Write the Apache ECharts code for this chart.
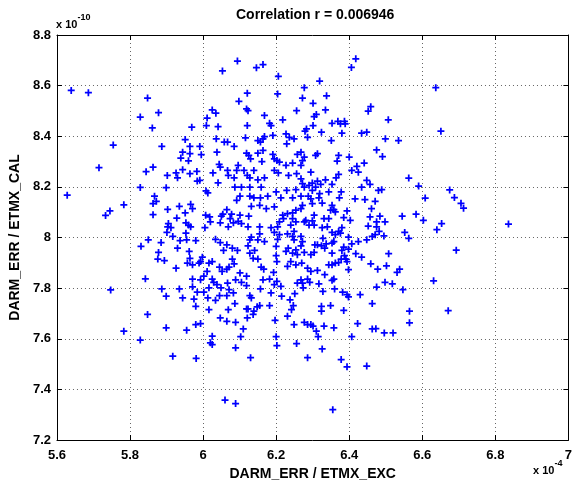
<!DOCTYPE html>
<html>
<head>
<meta charset="utf-8">
<script src="https://cdn.jsdelivr.net/npm/echarts@6/dist/echarts.min.js"></script>
<style>html,body{margin:0;padding:0;background:#fff}#c{width:575px;height:487px}</style>
</head>
<body>
<div id="c"></div>
<script>
// x in units of 1e-4, y in units of 1e-10
const titleText = 'Correlation r = 0.006946';
const xName = 'DARM_ERR / ETMX_EXC';
const yName = 'DARM_ERR / ETMX_CAL';
const xTicks = [5.6, 5.8, 6, 6.2, 6.4, 6.6, 6.8, 7];
const yTicks = [7.2, 7.4, 7.6, 7.8, 8, 8.2, 8.4, 8.6, 8.8];

const ptsUpperLeft = [[5.878,8.493],[5.861,8.433],[5.969,8.436],[6.025,8.504],[6.035,8.491],[6.011,8.472],[6.009,8.442],[6.041,8.438],[5.951,8.387],[5.887,8.360],[5.964,8.360],[5.991,8.360],[5.944,8.337],[5.964,8.331],[5.939,8.314],[5.960,8.303],[5.995,8.327],[6.036,8.390],[6.058,8.377],[6.038,8.337],[6.044,8.289],[6.047,8.278],[5.863,8.278],[5.944,8.268],[5.926,8.255],[5.930,8.236],[5.902,8.245],[5.964,8.252],[5.983,8.261],[5.984,8.223],[5.991,8.226],[6.027,8.255],[6.041,8.216],[5.899,8.197],[6.008,8.184],[6.013,8.176],[5.867,8.163],[5.872,8.143],[5.863,8.134],[5.903,8.111],[5.935,8.123],[5.966,8.131],[5.971,8.114],[5.951,8.097],[5.928,8.077],[5.863,8.090],[6.007,8.088],[6.018,8.081],[6.020,8.062],[6.050,8.084],[6.054,8.092],[6.047,8.058],[5.905,8.055],[5.903,8.042],[5.912,8.039],[5.953,8.058],[5.960,8.049],[5.966,8.042],[6.005,8.039]];

const ptsUpperMid = [[6.121,8.570],[6.204,8.567],[6.098,8.538],[6.119,8.508],[6.123,8.501],[6.256,8.501],[6.168,8.482],[6.182,8.451],[6.186,8.442],[6.218,8.465],[6.121,8.442],[6.116,8.394],[6.067,8.377],[6.085,8.360],[6.150,8.383],[6.157,8.377],[6.168,8.399],[6.164,8.390],[6.191,8.403],[6.227,8.409],[6.236,8.396],[6.249,8.390],[6.229,8.370],[6.119,8.333],[6.125,8.324],[6.130,8.311],[6.150,8.333],[6.164,8.344],[6.191,8.328],[6.195,8.311],[6.202,8.304],[6.209,8.298],[6.161,8.300],[6.227,8.285],[6.245,8.294],[6.258,8.328],[6.096,8.285],[6.092,8.265],[6.112,8.265],[6.139,8.265],[6.067,8.265],[6.069,8.245],[6.085,8.236],[6.121,8.245],[6.128,8.236],[6.150,8.228],[6.168,8.236],[6.195,8.265],[6.206,8.255],[6.234,8.245],[6.256,8.252],[6.087,8.199],[6.105,8.199],[6.128,8.199],[6.159,8.199],[6.200,8.180],[6.229,8.186],[6.254,8.189],[6.101,8.163],[6.092,8.147],[6.128,8.163],[6.139,8.157],[6.157,8.157],[6.177,8.163],[6.213,8.157],[6.245,8.157],[6.132,8.123],[6.155,8.127],[6.173,8.114],[6.195,8.121],[6.065,8.110],[6.078,8.092],[6.074,8.075],[6.101,8.088],[6.125,8.084],[6.096,8.064],[6.105,8.055],[6.083,8.058],[6.069,8.042],[6.123,8.042],[6.155,8.042],[6.186,8.039],[6.218,8.088],[6.231,8.094],[6.245,8.097],[6.220,8.075],[6.245,8.075],[6.254,8.062],[6.240,8.049],[6.209,8.062],[6.204,8.042],[6.254,8.108]];

const ptsUpperRight = [[6.272,8.551],[6.301,8.530],[6.338,8.560],[6.335,8.504],[6.310,8.486],[6.304,8.478],[6.301,8.442],[6.283,8.429],[6.279,8.420],[6.286,8.396],[6.324,8.416],[6.353,8.451],[6.369,8.459],[6.376,8.449],[6.387,8.459],[6.389,8.449],[6.380,8.412],[6.351,8.383],[6.434,8.412],[6.448,8.416],[6.452,8.499],[6.459,8.517],[6.268,8.337],[6.277,8.318],[6.272,8.304],[6.268,8.285],[6.313,8.331],[6.308,8.324],[6.371,8.324],[6.367,8.302],[6.400,8.318],[6.441,8.294],[6.421,8.281],[6.407,8.265],[6.425,8.258],[6.295,8.258],[6.268,8.232],[6.272,8.213],[6.290,8.206],[6.299,8.215],[6.313,8.223],[6.335,8.228],[6.371,8.249],[6.364,8.236],[6.277,8.199],[6.299,8.186],[6.308,8.199],[6.322,8.210],[6.353,8.210],[6.448,8.226],[6.457,8.210],[6.434,8.199],[6.288,8.163],[6.295,8.153],[6.319,8.173],[6.317,8.157],[6.344,8.180],[6.378,8.180],[6.373,8.157],[6.268,8.163],[6.299,8.134],[6.326,8.136],[6.272,8.127],[6.268,8.114],[6.353,8.127],[6.358,8.110],[6.349,8.108],[6.362,8.101],[6.394,8.105],[6.416,8.153],[6.443,8.150],[6.461,8.114],[6.281,8.068],[6.277,8.062],[6.304,8.088],[6.299,8.066],[6.290,8.049],[6.304,8.049],[6.331,8.075],[6.344,8.075],[6.340,8.042],[6.326,8.039],[6.385,8.079],[6.403,8.068],[6.380,8.039],[6.457,8.081],[6.452,8.045],
[6.507,8.465],[6.651,8.420],[6.499,8.390],[6.535,8.383],[6.475,8.346],[6.491,8.320],[6.563,8.235],[6.590,8.203],[6.480,8.186],[6.489,8.189],[6.471,8.143],[6.608,8.156],[6.484,8.084],[6.498,8.062],[6.475,8.062],[6.545,8.084],[6.583,8.092],[6.603,8.068],[6.653,8.055],[6.475,8.042]];

const ptsLowerLeft = [[5.901,8.020],[5.917,8.004],[5.953,8.017],[5.885,7.980],[5.937,7.988],[5.955,7.991],[5.980,7.988],[6.034,7.993],[6.047,7.980],[6.056,7.949],[5.930,7.958],[5.878,7.941],[5.962,7.945],[5.876,7.915],[5.894,7.909],[5.964,7.918],[5.957,7.899],[5.971,7.892],[5.989,7.899],[5.998,7.922],[5.993,7.905],[6.016,7.899],[6.025,7.905],[5.926,7.879],[6.045,7.883],[6.052,7.866],[6.011,7.866],[6.002,7.847],[5.993,7.833],[5.971,7.836],[6.025,7.836],[6.029,7.823],[6.038,7.814],[6.049,7.801],[5.887,7.797],[5.935,7.797],[5.971,7.805],[5.984,7.784],[6.002,7.784],[6.016,7.801],[5.899,7.768],[5.944,7.761],[5.975,7.757],[6.013,7.761],[6.034,7.752],[6.045,7.770],[5.980,7.728],[6.016,7.715],[6.047,7.682],[5.899,7.643],[5.955,7.634],[5.980,7.656],[5.993,7.660],[6.025,7.610],[6.020,7.584],[6.025,7.577],[5.917,7.531],[5.981,7.522]];

const ptsLowerMid = [[6.155,8.014],[6.195,8.020],[6.209,8.011],[6.231,8.014],[6.245,8.004],[6.249,8.024],[6.128,7.991],[6.132,8.001],[6.150,7.991],[6.168,7.984],[6.204,7.993],[6.249,7.991],[6.065,7.971],[6.080,7.958],[6.094,7.949],[6.123,7.967],[6.128,7.938],[6.141,7.949],[6.150,7.915],[6.137,7.918],[6.159,7.883],[6.166,7.875],[6.200,7.965],[6.200,7.928],[6.202,7.905],[6.227,7.945],[6.233,7.958],[6.245,7.938],[6.254,7.951],[6.258,7.932],[6.240,7.905],[6.254,7.892],[6.231,7.886],[6.080,7.915],[6.085,7.896],[6.071,7.883],[6.065,7.875],[6.101,7.860],[6.119,7.847],[6.089,7.833],[6.105,7.823],[6.119,7.810],[6.067,7.820],[6.071,7.794],[6.083,7.781],[6.065,7.770],[6.087,7.739],[6.128,7.770],[6.132,7.761],[6.157,7.797],[6.164,7.833],[6.182,7.836],[6.193,7.862],[6.202,7.827],[6.195,7.814],[6.186,7.781],[6.213,7.807],[6.215,7.768],[6.238,7.754],[6.251,7.778],[6.258,7.820],[6.155,7.731],[6.148,7.726],[6.182,7.731],[6.119,7.718],[6.123,7.718],[6.139,7.709],[6.137,7.696],[6.121,7.682],[6.069,7.715],[6.065,7.669],[6.089,7.665],[6.110,7.639],[6.103,7.608],[6.089,7.564],[6.130,7.525],[6.197,7.673],[6.200,7.608],[6.202,7.573],[6.231,7.689],[6.242,7.715],[6.247,7.731],[6.249,7.656],[6.256,7.581]];

const ptsLowerRight = [[6.268,8.004],[6.272,7.984],[6.268,7.967],[6.328,7.997],[6.353,8.020],[6.362,8.011],[6.371,8.024],[6.376,8.017],[6.398,8.001],[6.407,7.975],[6.425,7.984],[6.448,7.991],[6.463,8.004],[6.306,7.971],[6.313,7.971],[6.324,7.967],[6.337,7.975],[6.353,7.978],[6.358,7.984],[6.333,7.958],[6.277,7.941],[6.295,7.932],[6.304,7.941],[6.353,7.938],[6.380,7.949],[6.385,7.962],[6.398,7.954],[6.387,7.928],[6.391,7.915],[6.394,7.905],[6.378,7.915],[6.362,7.899],[6.353,7.892],[6.344,7.892],[6.371,7.901],[6.418,7.936],[6.434,7.922],[6.459,7.896],[6.270,7.899],[6.286,7.879],[6.295,7.866],[6.313,7.870],[6.333,7.853],[6.353,7.831],[6.358,7.836],[6.398,7.873],[6.268,7.833],[6.272,7.820],[6.286,7.836],[6.292,7.823],[6.274,7.801],[6.317,7.817],[6.328,7.787],[6.360,7.797],[6.382,7.784],[6.394,7.774],[6.398,7.765],[6.430,7.774],[6.463,7.739],[6.324,7.728],[6.324,7.709],[6.349,7.731],[6.385,7.712],[6.277,7.665],[6.286,7.656],[6.295,7.656],[6.301,7.650],[6.310,7.630],[6.315,7.608],[6.331,7.650],[6.358,7.643],[6.423,7.660],[6.407,7.608],[6.463,7.639],[6.326,7.560],[6.286,7.525],[6.378,7.518],[6.394,7.489],[6.448,7.492],
[6.471,8.011],[6.482,8.024],[6.495,8.006],[6.552,8.020],[6.563,7.997],[6.640,8.031],[6.508,7.936],[6.478,7.875],[6.502,7.888],[6.531,7.862],[6.538,7.875],[6.498,7.823],[6.518,7.817],[6.475,7.804],[6.547,7.794],[6.631,7.829],[6.565,7.709],[6.565,7.663],[6.473,7.640],[6.496,7.623],[6.520,7.623]];

const ptsOuter = [[5.639,8.581],[5.686,8.572],[5.828,8.476],[5.848,8.551],[5.754,8.365],[5.715,8.276],[5.844,8.260],[5.828,8.198],[5.628,8.167],[5.733,8.087],[5.745,8.105],[5.783,8.129],[5.850,7.991],[5.830,7.965],[5.842,7.837],[5.747,7.793],[5.848,7.696],[5.783,7.630],[5.828,7.595],
[6.675,8.188],[6.688,8.158],[6.706,8.135],[6.713,8.116],[6.836,8.053],[6.693,7.950],[6.671,7.711],
[6.053,8.658],[6.094,8.697],[6.146,8.671],[6.164,8.683],[6.206,8.637],[6.277,8.592],[6.319,8.618],[6.406,8.672],[6.418,8.706],[6.637,8.592],
[6.060,7.358],[6.089,7.344],[6.355,7.320]];

const allPts = [].concat(ptsUpperLeft, ptsUpperMid, ptsUpperRight, ptsLowerLeft, ptsLowerMid, ptsLowerRight, ptsOuter);

const FONT = 'Liberation Sans, Arial, Helvetica, sans-serif';
const fmt = v => String(+(+v).toFixed(1));
const chart = echarts.init(document.getElementById('c'), null, {renderer: 'canvas'});
const grid = {left: 55, top: 35, width: 518, height: 405};
const axisCommon = {
  type: 'value',
  axisLine: {show: true, lineStyle: {color: '#000', width: 1}},
  axisTick: {show: true, inside: true, length: 5, lineStyle: {color: '#000', width: 1}},
  splitLine: {show: false},
  axisLabel: {show: false}
};
chart.setOption({
  animation: false,
  backgroundColor: '#fff',
  grid: grid,
  xAxis: [
    Object.assign({}, axisCommon, {
      min: xTicks[0], max: xTicks[xTicks.length - 1], interval: 0.2, position: 'bottom',
      axisLabel: {show: true, color: '#000', fontFamily: FONT, fontWeight: 'bold', fontSize: 13, margin: 9, formatter: fmt},
      splitLine: {show: true, lineStyle: {color: '#666', width: 1, type: [1, 3]}},
      name: xName, nameLocation: 'middle', nameGap: 18,
      nameTextStyle: {color: '#000', fontFamily: FONT, fontWeight: 'bold', fontSize: 14, verticalAlign: 'top'}
    }),
    Object.assign({}, axisCommon, {min: xTicks[0], max: xTicks[xTicks.length - 1], interval: 0.2, position: 'top'})
  ],
  yAxis: [
    Object.assign({}, axisCommon, {
      min: yTicks[0], max: yTicks[yTicks.length - 1], interval: 0.2, position: 'left',
      axisLabel: {show: true, color: '#000', fontFamily: FONT, fontWeight: 'bold', fontSize: 13, margin: 6, formatter: fmt},
      splitLine: {show: true, lineStyle: {color: '#666', width: 1, type: [1, 3]}},
      name: yName, nameLocation: 'middle', nameGap: 30, nameRotate: 90,
      nameTextStyle: {color: '#000', fontFamily: FONT, fontWeight: 'bold', fontSize: 14}
    }),
    Object.assign({}, axisCommon, {min: yTicks[0], max: yTicks[yTicks.length - 1], interval: 0.2, position: 'right'})
  ],
  graphic: [
    {type: 'text', left: 236, top: 8, style: {text: titleText, font: 'bold 14px ' + FONT, fill: '#000'}},
    {type: 'text', left: 56, top: 13, style: {
      text: '{b|x 10}{s|-10}', rich: {b: {font: 'bold 11px ' + FONT, fill: '#000', padding: [6, 0, 0, 0]}, s: {font: 'bold 9px ' + FONT, fill: '#000', verticalAlign: 'top'}}}},
    {type: 'text', left: 533, top: 459, style: {
      text: '{b|x 10}{s|-4}', rich: {b: {font: 'bold 11px ' + FONT, fill: '#000', padding: [6, 0, 0, 0]}, s: {font: 'bold 9px ' + FONT, fill: '#000', verticalAlign: 'top'}}}}
  ],
  series: [{
    type: 'scatter',
    xAxisIndex: 0, yAxisIndex: 0,
    data: allPts,
    symbol: 'path://M3,0H5V3H8V5H5V8H3V5H0V3H3Z',
    symbolSize: 7,
    itemStyle: {color: '#0000ff', opacity: 1},
    emphasis: {disabled: true},
    silent: true
  }]
});
</script>
</body>
</html>
